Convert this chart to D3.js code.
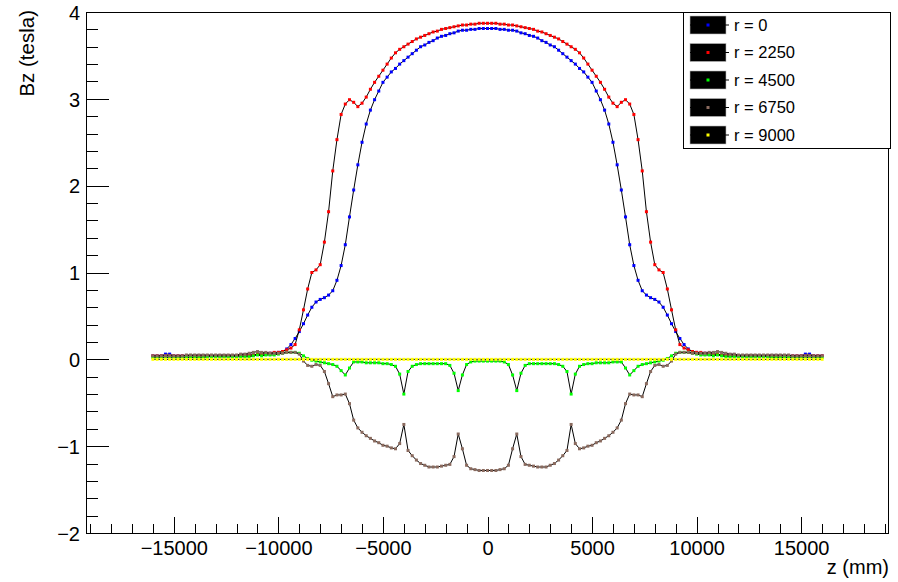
<!DOCTYPE html>
<html><head><meta charset="utf-8">
<script src="https://cdn.jsdelivr.net/npm/d3@7"></script>
<style>
body{margin:0;background:#fff}
svg{display:block}
text{font-family:"Liberation Sans",Arial,Helvetica,sans-serif;fill:#000}
</style>
</head><body>
<svg id="c" width="898" height="582"></svg>
<script>
// z positions (mm)
const zmm = [
-16000,-15800,-15600,-15400,-15200,-15000,-14800,-14600,-14400,-14200,
-14000,-13800,-13600,-13400,-13200,-13000,-12800,-12600,-12400,-12200,
-12000,-11800,-11600,-11400,-11200,-11000,-10800,-10600,-10400,-10200,
-10000,-9800,-9600,-9400,-9200,-9000,-8800,-8600,-8400,-8200,
-8000,-7800,-7600,-7400,-7200,-7000,-6800,-6600,-6400,-6200,
-6000,-5800,-5600,-5400,-5200,-5000,-4800,-4600,-4400,-4200,
-4000,-3800,-3600,-3400,-3200,-3000,-2800,-2600,-2400,-2200,
-2000,-1800,-1600,-1400,-1200,-1000,-800,-600,-400,-200,
0,
200,400,600,800,1000,1200,1400,1600,1800,2000,
2200,2400,2600,2800,3000,3200,3400,3600,3800,4000,
4200,4400,4600,4800,5000,5200,5400,5600,5800,6000,
6200,6400,6600,6800,7000,7200,7400,7600,7800,8000,
8200,8400,8600,8800,9000,9200,9400,9600,9800,10000,
10200,10400,10600,10800,11000,11200,11400,11600,11800,12000,
12200,12400,12600,12800,13000,13200,13400,13600,13800,14000,
14200,14400,14600,14800,15000,15200,15400,15600,15800,16000
];

// Bz (tesla) at r = 0
const bzR0 = [
0.04,
0.04,0.04,0.06,0.06,0.04,0.04,0.04,0.04,0.04,0.04,
0.04,0.04,0.04,0.04,0.04,0.04,0.04,0.04,0.04,0.04,
0.05,0.05,0.05,0.05,0.06,0.06,0.06,0.07,0.07,0.08,
0.09,0.12,0.17,0.24,0.32,0.41,0.51,0.60,0.66,0.69,
0.71,0.74,0.79,0.91,1.08,1.32,1.64,1.95,2.24,2.50,
2.71,2.87,2.99,3.09,3.19,3.25,3.31,3.35,3.40,3.44,
3.48,3.52,3.56,3.60,3.62,3.65,3.67,3.70,3.72,3.73,
3.75,3.76,3.78,3.79,3.79,3.80,3.80,3.81,3.81,
3.81,
3.81,3.81,3.80,3.80,3.79,3.79,3.78,3.76,3.75,
3.73,3.72,3.70,3.67,3.65,3.62,3.60,3.56,3.52,3.48,
3.44,3.40,3.35,3.31,3.25,3.19,3.09,2.99,2.87,2.71,
2.50,2.24,1.95,1.64,1.32,1.08,0.91,0.79,0.74,0.71,
0.69,0.66,0.60,0.51,0.41,0.32,0.24,0.17,0.12,0.09,
0.08,0.07,0.07,0.06,0.06,0.06,0.05,0.05,0.05,0.05,
0.04,0.04,0.04,0.04,0.04,0.04,0.04,0.04,0.04,0.04,
0.04,0.04,0.04,0.04,0.04,0.04,0.06,0.06,0.04,0.04,
0.04
];

// Bz (tesla) at r = 2250
const bzR2250 = [
0.04,
0.04,0.04,0.04,0.04,0.04,0.04,0.04,0.04,0.04,0.04,
0.04,0.04,0.04,0.04,0.04,0.04,0.04,0.04,0.04,0.04,
0.05,0.05,0.05,0.05,0.06,0.06,0.07,0.07,0.08,0.08,
0.09,0.11,0.13,0.17,0.34,0.57,0.81,1.00,1.03,1.09,
1.35,1.70,2.17,2.53,2.82,2.94,2.99,2.96,2.91,2.95,
3.02,3.11,3.19,3.26,3.33,3.40,3.47,3.53,3.57,3.60,
3.63,3.66,3.69,3.71,3.73,3.75,3.77,3.78,3.80,3.81,
3.82,3.83,3.84,3.85,3.85,3.86,3.86,3.87,3.87,
3.87,
3.87,3.87,3.86,3.86,3.85,3.85,3.84,3.83,3.82,
3.81,3.80,3.78,3.77,3.75,3.73,3.71,3.69,3.66,3.63,
3.60,3.57,3.53,3.47,3.40,3.33,3.26,3.19,3.11,3.02,
2.95,2.91,2.96,2.99,2.94,2.82,2.53,2.17,1.70,1.35,
1.09,1.03,1.00,0.81,0.57,0.34,0.17,0.13,0.11,0.09,
0.08,0.08,0.07,0.07,0.06,0.06,0.05,0.05,0.05,0.05,
0.04,0.04,0.04,0.04,0.04,0.04,0.04,0.04,0.04,0.04,
0.04,0.04,0.04,0.04,0.04,0.04,0.04,0.04,0.04,0.04,
0.04
];

// Bz (tesla) at r = 4500
const bzR4500 = [
0.02,
0.02,0.02,0.02,0.02,0.02,0.02,0.02,0.02,0.02,0.02,
0.02,0.02,0.03,0.03,0.03,0.03,0.03,0.03,0.03,0.03,
0.03,0.03,0.03,0.04,0.05,0.04,0.05,0.05,0.05,0.06,
0.07,0.08,0.08,0.08,0.07,0.04,0.01,-0.01,-0.02,-0.03,
-0.04,-0.05,-0.06,-0.08,-0.13,-0.18,-0.10,-0.03,-0.03,-0.03,
-0.04,-0.04,-0.04,-0.04,-0.05,-0.05,-0.06,-0.08,-0.17,-0.40,
-0.14,-0.08,-0.06,-0.05,-0.05,-0.05,-0.05,-0.05,-0.05,-0.05,
-0.07,-0.16,-0.36,-0.18,-0.06,-0.03,-0.02,-0.02,-0.02,
-0.02,
-0.02,-0.02,-0.02,-0.03,-0.06,-0.18,-0.36,-0.16,-0.07,
-0.05,-0.05,-0.05,-0.05,-0.05,-0.05,-0.05,-0.06,-0.08,-0.14,
-0.40,-0.17,-0.08,-0.06,-0.05,-0.05,-0.04,-0.04,-0.04,-0.04,
-0.03,-0.03,-0.03,-0.10,-0.18,-0.13,-0.08,-0.06,-0.05,-0.04,
-0.03,-0.02,-0.01,0.01,0.04,0.07,0.08,0.08,0.08,0.07,
0.06,0.05,0.05,0.05,0.04,0.05,0.04,0.03,0.03,0.03,
0.03,0.03,0.03,0.03,0.03,0.03,0.03,0.03,0.02,0.02,
0.02,0.02,0.02,0.02,0.02,0.02,0.02,0.02,0.02,0.02,
0.02
];

// Bz (tesla) at r = 6750
const bzR6750 = [
0.04,
0.04,0.04,0.04,0.04,0.04,0.04,0.04,0.05,0.05,0.05,
0.05,0.05,0.05,0.05,0.05,0.05,0.05,0.05,0.05,0.05,
0.06,0.06,0.07,0.08,0.09,0.08,0.08,0.07,0.07,0.07,
0.07,0.08,0.08,0.08,0.06,-0.02,-0.07,-0.08,-0.06,-0.07,
-0.14,-0.28,-0.43,-0.41,-0.41,-0.40,-0.51,-0.70,-0.79,-0.84,
-0.88,-0.91,-0.94,-0.96,-0.99,-1.00,-1.02,-1.03,-0.97,-0.75,
-1.05,-1.11,-1.16,-1.20,-1.22,-1.24,-1.24,-1.24,-1.23,-1.22,
-1.21,-1.12,-0.86,-1.03,-1.22,-1.26,-1.27,-1.28,-1.28,
-1.28,
-1.28,-1.28,-1.27,-1.26,-1.22,-1.03,-0.86,-1.12,-1.21,
-1.22,-1.23,-1.24,-1.24,-1.24,-1.22,-1.20,-1.16,-1.11,-1.05,
-0.75,-0.97,-1.03,-1.02,-1.00,-0.99,-0.96,-0.94,-0.91,-0.88,
-0.84,-0.79,-0.70,-0.51,-0.40,-0.41,-0.41,-0.43,-0.28,-0.14,
-0.07,-0.06,-0.08,-0.07,-0.02,0.06,0.08,0.08,0.08,0.07,
0.07,0.07,0.07,0.08,0.08,0.09,0.08,0.07,0.06,0.06,
0.05,0.05,0.05,0.05,0.05,0.05,0.05,0.05,0.05,0.05,
0.05,0.05,0.05,0.04,0.04,0.04,0.04,0.04,0.04,0.04,
0.04
];

// Bz (tesla) at r = 9000
const bzR9000 = [
0.00,
0.00,0.00,0.00,0.00,0.00,0.00,0.00,0.00,0.00,0.00,
0.00,0.00,0.00,0.00,0.00,0.00,0.00,0.00,0.00,0.00,
0.00,0.00,0.00,0.00,0.00,0.00,0.00,0.00,0.00,0.00,
0.00,0.00,0.00,0.00,0.00,0.00,0.00,0.00,0.00,0.00,
0.00,0.00,0.00,0.00,0.00,0.00,0.00,0.00,0.00,0.00,
0.00,0.00,0.00,0.00,0.00,0.00,0.00,0.00,0.00,0.00,
0.00,0.00,0.00,0.00,0.00,0.00,0.00,0.00,0.00,0.00,
0.00,0.00,0.00,0.00,0.00,0.00,0.00,0.00,0.00,
0.00,
0.00,0.00,0.00,0.00,0.00,0.00,0.00,0.00,0.00,
0.00,0.00,0.00,0.00,0.00,0.00,0.00,0.00,0.00,0.00,
0.00,0.00,0.00,0.00,0.00,0.00,0.00,0.00,0.00,0.00,
0.00,0.00,0.00,0.00,0.00,0.00,0.00,0.00,0.00,0.00,
0.00,0.00,0.00,0.00,0.00,0.00,0.00,0.00,0.00,0.00,
0.00,0.00,0.00,0.00,0.00,0.00,0.00,0.00,0.00,0.00,
0.00,0.00,0.00,0.00,0.00,0.00,0.00,0.00,0.00,0.00,
0.00,0.00,0.00,0.00,0.00,0.00,0.00,0.00,0.00,0.00,
0.00
];

const seriesNames = ["r = 0", "r = 2250", "r = 4500", "r = 6750", "r = 9000"];
const seriesColors = ["#0000ff", "#ff0000", "#00ff00", "#8a6a5e", "#ffff00"];
const seriesValues = [bzR0, bzR2250, bzR4500, bzR6750, bzR9000];
const xTickLabels = [-15000, -10000, -5000, 0, 5000, 10000, 15000];
const yTickLabels = [-2, -1, 0, 1, 2, 3, 4];
const xTitle = "z (mm)";
const yTitle = "Bz (tesla)";

(function () {
const fLeft = 86, fRight = 889, fTop = 12, fBottom = 533;

const svg = d3.select("#c");
const x = d3.scaleLinear().domain([-19200, 19200]).range([fLeft, fRight]);
const y = d3.scaleLinear().domain([-2, 4]).range([fBottom, fTop]);
const fmt = d3.format("d");

// minor ticks
const gxMinor = svg.append("g").attr("transform", `translate(0,${fBottom})`)
  .call(d3.axisBottom(x).tickValues(x.ticks(38)).tickSize(-9).tickFormat(""));
const gyMinor = svg.append("g").attr("transform", `translate(${fLeft},0)`)
  .call(d3.axisLeft(y).tickValues(y.ticks(30)).tickSize(-12).tickFormat(""));
// major ticks
const gx = svg.append("g").attr("transform", `translate(0,${fBottom})`)
  .call(d3.axisBottom(x).tickValues(xTickLabels).tickSize(-16).tickPadding(8).tickFormat(fmt));
const gy = svg.append("g").attr("transform", `translate(${fLeft},0)`)
  .call(d3.axisLeft(y).tickValues(yTickLabels).tickSize(-23).tickPadding(6).tickFormat(fmt));

[gxMinor, gyMinor, gx, gy].forEach(g => {
  g.select(".domain").remove();
  g.selectAll("line").attr("stroke", "#000").attr("stroke-width", 1).attr("shape-rendering", "crispEdges");
  g.selectAll("text").attr("font-size", 20).attr("font-family", "Liberation Sans, Arial, sans-serif").attr("fill", "#000");
});
gy.selectAll("text").attr("dy", "0.36em");

// frame
svg.append("rect")
  .attr("x", fLeft + 0.5).attr("y", fTop + 0.5)
  .attr("width", fRight - fLeft - 1).attr("height", fBottom - fTop)
  .attr("fill", "none").attr("stroke", "#000").attr("stroke-width", 1)
  .attr("shape-rendering", "crispEdges");

// titles
svg.append("text").attr("x", fRight).attr("y", 574).attr("text-anchor", "end")
  .attr("font-size", 20).text(xTitle);
svg.append("text").attr("transform", "translate(34,10) rotate(-90)")
  .attr("text-anchor", "end").attr("font-size", 20.5).text(yTitle);

// series
const idx = d3.range(zmm.length);
seriesValues.forEach((vals, s) => {
  const pts = idx.filter(i => vals[i] !== undefined);
  const line = d3.line().x(i => x(zmm[i])).y(i => y(vals[i]));
  svg.append("path").datum(pts)
    .attr("d", line).attr("fill", "none").attr("stroke", "#000").attr("stroke-width", 1);
  svg.append("g").selectAll("rect").data(pts).join("rect")
    .attr("x", i => x(zmm[i]) - 1.5).attr("y", i => y(vals[i]) - 1.5)
    .attr("width", 3).attr("height", 3).attr("fill", seriesColors[s]);
});

// legend
const lg = svg.append("g");
lg.append("rect").attr("x", 683.5).attr("y", 12.5).attr("width", 207).attr("height", 136)
  .attr("fill", "#fff").attr("stroke", "#000").attr("stroke-width", 1).attr("shape-rendering", "crispEdges");
seriesNames.forEach((name, i) => {
  const cy = 25 + i * 27.5;
  lg.append("rect").attr("x", 690).attr("y", cy - 9).attr("width", 36).attr("height", 18)
    .attr("fill", "#000").attr("stroke", "#bbb").attr("stroke-width", 0.6);
  lg.append("line").attr("x1", 690).attr("x2", 729).attr("y1", cy).attr("y2", cy)
    .attr("stroke", "#000").attr("stroke-width", 1);
  lg.append("rect").attr("x", 706.5).attr("y", cy - 1.5).attr("width", 3).attr("height", 3)
    .attr("fill", seriesColors[i]);
  lg.append("text").attr("x", 734).attr("y", cy).attr("dy", "0.36em")
    .attr("font-size", 16.5).text(name);
});
})();
</script>
</body></html>
